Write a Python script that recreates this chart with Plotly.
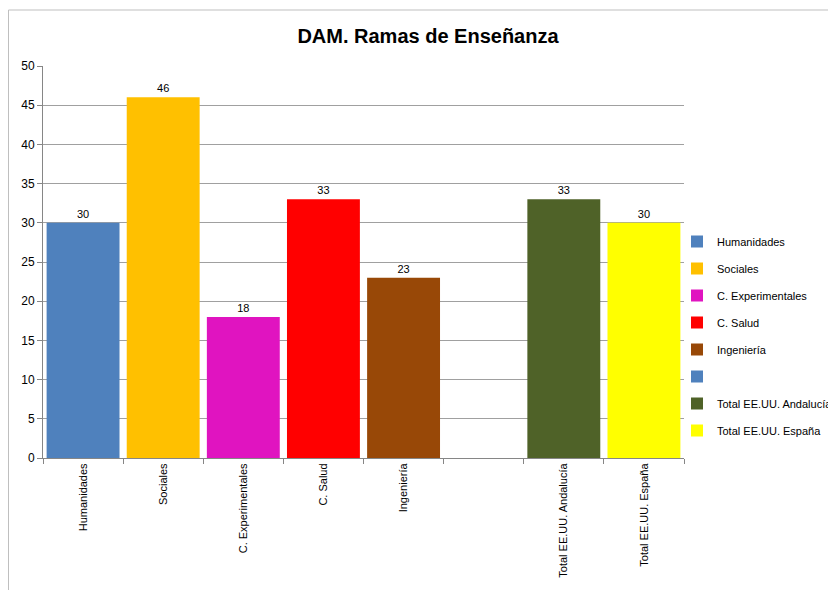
import plotly.graph_objects as go

categories = ["Humanidades", "Sociales", "C. Experimentales", "C. Salud", "Ingeniería", " ",
              "Total EE.UU. Andalucía", "Total EE.UU. España"]
legend_names = ["Humanidades", "Sociales", "C. Experimentales", "C. Salud", "Ingeniería", "",
                "Total EE.UU. Andalucía", "Total EE.UU. España"]
values = [30, 46, 18, 33, 23, None, 33, 30]
colors = ["#4F81BD", "#FFC000", "#E014C0", "#FF0000", "#984807", "#4F81BD", "#4F6228", "#FFFF00"]

W, H = 828, 582
L, R, T, B = 35, 676, 58, 450  # plot area in figure pixels

fig = go.Figure()
for i, (cat, name, v, c) in enumerate(zip(categories, legend_names, values, colors)):
    fig.add_trace(go.Bar(
        x=[cat], y=[v], name=name if name else " ",
        marker=dict(color=c, line=dict(width=0)),
        text=[str(v)] if v is not None else None,
        textposition="outside",
        textfont=dict(family="Liberation Sans, Arial", size=11, color="#000000"),
        cliponaxis=False,
        legendgroup="g%d" % i,
    ))

fig.update_layout(
    width=W, height=H,
    paper_bgcolor="white", plot_bgcolor="white",
    barmode="overlay", bargap=0.09,
    margin=dict(l=L, r=W - R, t=T, b=H - B, autoexpand=False),
    title=dict(text="<b>DAM. Ramas de Enseñanza</b>", x=420 / W, xref="container",
               xanchor="center", y=1 - 28 / H, yref="container", yanchor="middle",
               font=dict(family="Liberation Sans, Arial", size=20, color="#000000")),
    font=dict(family="Liberation Sans, Arial", size=11, color="#000000"),
    showlegend=True,
    legend=dict(x=(669 - L) / (R - L), xref="paper", xanchor="left",
                y=(B - 328) / (B - T), yanchor="middle",
                font=dict(size=11, family="Liberation Sans, Arial"),
                tracegroupgap=8, itemwidth=30,
                bgcolor="rgba(0,0,0,0)"),
)
fig.update_xaxes(
    type="category", categoryorder="array", categoryarray=categories,
    tickangle=-90, ticks="outside", tickson="boundaries", ticklen=5,
    tickcolor="#868686", showline=True, linecolor="#868686", linewidth=1,
    showgrid=False, tickfont=dict(size=11),
)
fig.update_yaxes(
    range=[0, 50], dtick=5, ticks="outside", ticklen=5, tickcolor="#868686",
    showline=True, linecolor="#868686", linewidth=1,
    showgrid=True, gridcolor="#A0A0A0", gridwidth=1, zeroline=False,
    tickfont=dict(size=12),
)
fig.add_shape(type="rect", xref="paper", yref="paper",
              x0=(0.5 - L) / (R - L), x1=1.5, y0=-0.6, y1=(B - 2) / (B - T),
              line=dict(color="#BFBFBF", width=1), fillcolor="rgba(0,0,0,0)", layer="below")

fig.write_html("out.html")
